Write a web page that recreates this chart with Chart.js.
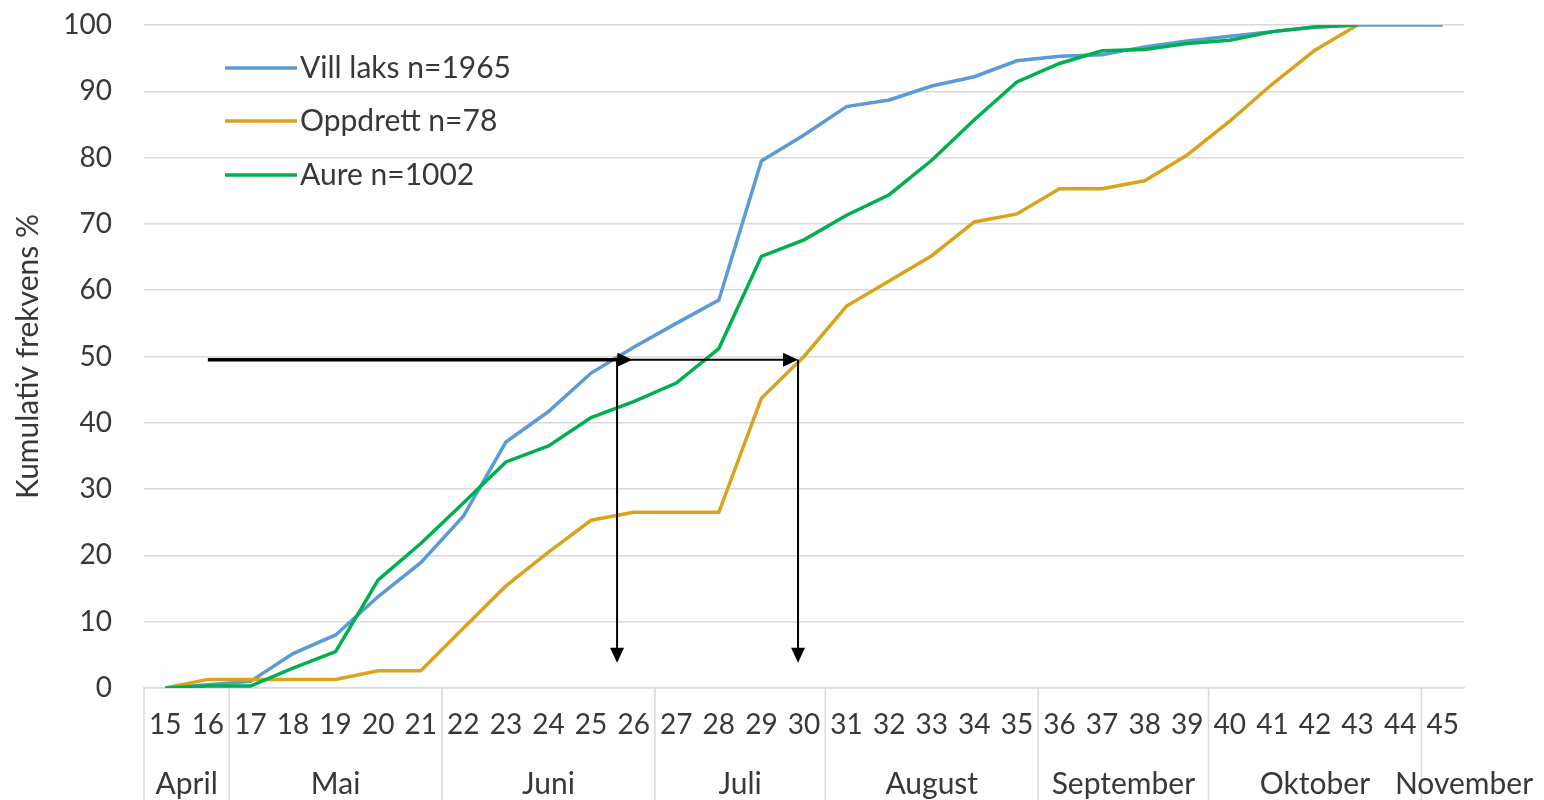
<!DOCTYPE html>
<html><head><meta charset="utf-8">
<script src="https://cdn.jsdelivr.net/npm/chart.js@4"></script>
<style>html,body{margin:0;padding:0;background:#fff;} #wrap{width:1544px;height:800px;position:relative;}</style>
</head><body><div id="wrap"><canvas id="c" width="1544" height="800"></canvas></div>
<script>
const weeks = ['15','16','17','18','19','20','21','22','23','24','25','26','27','28','29','30','31','32','33','34','35','36','37','38','39','40','41','42','43','44','45'];
const villLaks = [0, 0.5, 1.0, 5.2, 8.0, 13.8, 18.9, 25.9, 37.1, 41.7, 47.5, 51.4, 55.0, 58.5, 79.5, 83.4, 87.7, 88.7, 90.8, 92.2, 94.6, 95.3, 95.5, 96.7, 97.6, 98.3, 99.0, 99.7, 100, 100, 100];
const oppdrett = [0, 1.3, 1.3, 1.3, 1.3, 2.6, 2.6, 9.0, 15.4, 20.5, 25.3, 26.5, 26.5, 26.5, 43.7, 50.0, 57.6, 61.4, 65.2, 70.3, 71.5, 75.3, 75.3, 76.5, 80.4, 85.5, 91.1, 96.2, 100, null, null];
const aure = [0, 0.3, 0.3, 3.0, 5.5, 16.3, 21.8, 27.9, 34.1, 36.5, 40.8, 43.2, 46.0, 51.2, 65.1, 67.6, 71.3, 74.4, 79.6, 85.7, 91.4, 94.2, 96.1, 96.3, 97.2, 97.7, 99.0, 99.7, 100, null, null];
const seriesNames = ['Vill laks n=1965', 'Oppdrett n=78', 'Aure n=1002'];
const yTitle = 'Kumulativ frekvens %';
const months = ['April', 'Mai', 'Juni', 'Juli', 'August', 'September', 'Oktober', 'November'];
const monthFirstWeek = ['15', '17', '22', '27', '31', '36', '40', '45'];
// annotation arrows (x in category index units, y in value units)
const arrowLevel = 49.5;
const hArrows = [[1, 10.97], [10.61, 14.86]];
const vArrows = [[10.61, 3.8], [14.86, 3.8]];

const colors = ['#5B9BD5', '#D9A31C', '#00B050'];
const FONT = 'Lato, "Open Sans", sans-serif';
const TXT = '#383838';

const extras = {
  id: 'extras',
  afterDraw(chart) {
    const ctx = chart.ctx, x = chart.scales.x, y = chart.scales.y, ca = chart.chartArea;
    const step = x.getPixelForValue(1) - x.getPixelForValue(0);
    ctx.save();
    // month separators and labels
    ctx.strokeStyle = '#d9d9d9'; ctx.lineWidth = 1.5;
    const bounds = monthFirstWeek.map(w => x.getPixelForValue(weeks.indexOf(w)) - step / 2);
    bounds.forEach(b => { ctx.beginPath(); ctx.moveTo(b, ca.bottom); ctx.lineTo(b, 800); ctx.stroke(); });
    ctx.fillStyle = TXT; ctx.font = '30px ' + FONT; ctx.textAlign = 'center'; ctx.textBaseline = 'middle';
    months.forEach((m, i) => {
      const l = bounds[i];
      const r = i < bounds.length - 1 ? bounds[i + 1] : ca.right + (ca.right - l);
      ctx.fillText(m, (l + r) / 2, 784);
    });
    // legend
    ctx.textAlign = 'left';
    [43, 96, 150].forEach((dy, i) => {
      const yy = ca.top + dy;
      ctx.strokeStyle = colors[i]; ctx.lineWidth = 3.5;
      ctx.beginPath(); ctx.moveTo(ca.left + 81, yy); ctx.lineTo(ca.left + 153, yy); ctx.stroke();
      ctx.fillStyle = TXT; ctx.fillText(seriesNames[i], ca.left + 156, yy);
    });
    // arrows
    ctx.strokeStyle = '#000'; ctx.fillStyle = '#000';
    const py = y.getPixelForValue(arrowLevel);
    hArrows.forEach((a, i) => {
      const x0 = x.getPixelForValue(a[0]), x1 = x.getPixelForValue(a[1]);
      ctx.lineWidth = i === 0 ? 3.5 : 2;
      ctx.beginPath(); ctx.moveTo(x0, py); ctx.lineTo(x1 - 10, py); ctx.stroke();
      ctx.beginPath(); ctx.moveTo(x1, py); ctx.lineTo(x1 - 15, py - 7); ctx.lineTo(x1 - 15, py + 7); ctx.closePath(); ctx.fill();
    });
    vArrows.forEach(a => {
      const px = x.getPixelForValue(a[0]), y1 = y.getPixelForValue(a[1]);
      ctx.lineWidth = 2;
      ctx.beginPath(); ctx.moveTo(px, py); ctx.lineTo(px, y1 - 10); ctx.stroke();
      ctx.beginPath(); ctx.moveTo(px, y1); ctx.lineTo(px - 7, y1 - 15); ctx.lineTo(px + 7, y1 - 15); ctx.closePath(); ctx.fill();
    });
    ctx.restore();
  }
};

new Chart(document.getElementById('c'), {
  type: 'line',
  data: {
    labels: weeks,
    datasets: [villLaks, oppdrett, aure].map((d, i) => ({
      label: seriesNames[i], data: d, borderColor: colors[i], backgroundColor: colors[i],
      borderWidth: 3.5, pointRadius: 0, tension: 0, fill: false, order: 3 - i, spanGaps: false
    }))
  },
  options: {
    responsive: false, animation: false,
    layout: { padding: { top: 25, right: 80, left: 0, bottom: 0 } },
    plugins: { legend: { display: false }, tooltip: { enabled: false } },
    scales: {
      x: {
        offset: true,
        grid: { display: false, drawTicks: false },
        border: { display: true, color: '#d9d9d9', width: 1.5 },
        ticks: { color: TXT, font: { family: FONT, size: 28 }, padding: 20, maxRotation: 0, autoSkip: false },
        afterFit(s) { s.height = 112; }
      },
      y: {
        min: 0, max: 100,
        grid: { color: '#d9d9d9', lineWidth: 1.5, drawTicks: true, tickLength: 24, tickColor: 'rgba(0,0,0,0)' },
        border: { display: false },
        ticks: { stepSize: 10, color: TXT, font: { family: FONT, size: 28 }, padding: 8 },
        title: { display: true, text: yTitle, color: TXT, font: { family: FONT, size: 30 }, padding: { top: 10, bottom: 0 } },
        afterFit(s) { s.width = 144; }
      }
    }
  },
  plugins: [extras]
});
</script></body></html>
